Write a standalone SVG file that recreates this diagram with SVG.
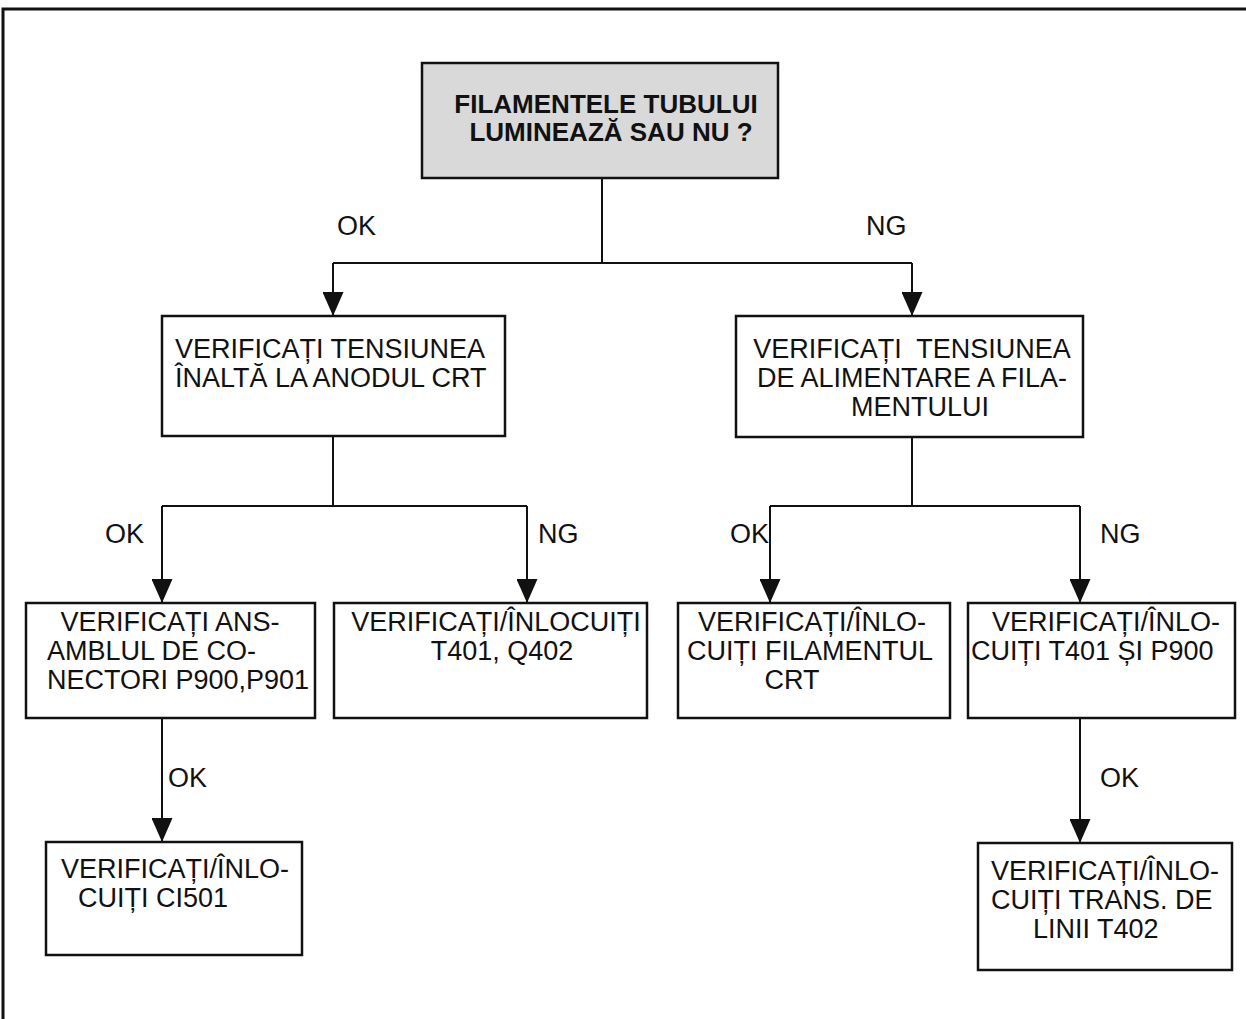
<svg xmlns="http://www.w3.org/2000/svg" width="1246" height="1019" viewBox="0 0 1246 1019">
<defs>
<style>
.bx{fill:#fff;stroke:#111;stroke-width:2.5}
.gr{fill:#d9d9d9;stroke:#111;stroke-width:2.5}
.t{font-family:"Liberation Sans",Arial,sans-serif;font-size:27px;fill:#111}
.tb{font-family:"Liberation Sans",Arial,sans-serif;font-size:26px;font-weight:bold;fill:#111}
.m{text-anchor:middle}
.c{fill:none;stroke:#111;stroke-width:2}
.fr{fill:none;stroke:#111;stroke-width:3}
</style>
<marker id="ah" viewBox="0 0 24 21" refX="24" refY="10.5" markerWidth="24" markerHeight="21" markerUnits="userSpaceOnUse" orient="auto">
<path d="M0,0 L24,10.5 L0,21 z" fill="#111"/>
</marker>
</defs>
<rect width="1246" height="1019" fill="#fff"/>
<path class="fr" d="M3,1019 V9 H1246"/>

<g id="connectors">
<path class="c" d="M602,178 V263"/>
<path class="c" d="M333,263 H912"/>
<path class="c" d="M333,263 V316" marker-end="url(#ah)"/>
<path class="c" d="M912,263 V316" marker-end="url(#ah)"/>
<path class="c" d="M333,436 V506"/>
<path class="c" d="M162,506 H527"/>
<path class="c" d="M162,506 V603" marker-end="url(#ah)"/>
<path class="c" d="M527,506 V603" marker-end="url(#ah)"/>
<path class="c" d="M912,437 V506"/>
<path class="c" d="M770,506 H1080"/>
<path class="c" d="M770,506 V603" marker-end="url(#ah)"/>
<path class="c" d="M1080,506 V603" marker-end="url(#ah)"/>
<path class="c" d="M162,718 V842" marker-end="url(#ah)"/>
<path class="c" d="M1080,718 V843" marker-end="url(#ah)"/>
<text class="t" x="337" y="235">OK</text>
<text class="t" x="866" y="235">NG</text>
<text class="t" x="105" y="543">OK</text>
<text class="t" x="538" y="543">NG</text>
<text class="t" x="730" y="543">OK</text>
<text class="t" x="1100" y="543">NG</text>
<text class="t" x="168" y="787">OK</text>
<text class="t" x="1100" y="787">OK</text>
</g>

<g id="n-top">
<rect class="gr" x="422" y="63" width="356" height="115"/>
<text class="tb m" x="606" y="113">FILAMENTELE TUBULUI</text>
<text class="tb m" x="611" y="141">LUMINEAZĂ SAU NU ?</text>
</g>

<g id="n-a">
<rect class="bx" x="162" y="316" width="343" height="120"/>
<text class="t" x="175" y="358">VERIFICAȚI TENSIUNEA</text>
<text class="t" x="175" y="387">ÎNALTĂ LA ANODUL CRT</text>
</g>

<g id="n-b">
<rect class="bx" x="736" y="316" width="347" height="121"/>
<text class="t m" x="912" y="358" xml:space="preserve">VERIFICAȚI  TENSIUNEA</text>
<text class="t m" x="912" y="387">DE ALIMENTARE A FILA-</text>
<text class="t m" x="920" y="416">MENTULUI</text>
</g>

<g id="n-c">
<rect class="bx" x="26" y="603" width="289" height="115"/>
<text class="t m" x="170" y="631">VERIFICAȚI ANS-</text>
<text class="t" x="47" y="660">AMBLUL DE CO-</text>
<text class="t" x="47" y="689">NECTORI P900,P901</text>
</g>

<g id="n-d">
<rect class="bx" x="334" y="603" width="313" height="115"/>
<text class="t m" x="496" y="631">VERIFICAȚI/ÎNLOCUIȚI</text>
<text class="t m" x="502" y="660">T401, Q402</text>
</g>

<g id="n-e">
<rect class="bx" x="678" y="603" width="272" height="115"/>
<text class="t m" x="812" y="631">VERIFICAȚI/ÎNLO-</text>
<text class="t m" x="810" y="660">CUIȚI FILAMENTUL</text>
<text class="t m" x="792" y="689">CRT</text>
</g>

<g id="n-f">
<rect class="bx" x="968" y="603" width="267" height="115"/>
<text class="t" x="992" y="631">VERIFICAȚI/ÎNLO-</text>
<text class="t" x="971" y="660">CUIȚI T401 ȘI P900</text>
</g>

<g id="n-h">
<rect class="bx" x="46" y="842" width="256" height="113"/>
<text class="t" x="61" y="878">VERIFICAȚI/ÎNLO-</text>
<text class="t" x="78" y="907">CUIȚI CI501</text>
</g>

<g id="n-g">
<rect class="bx" x="978" y="843" width="254" height="127"/>
<text class="t" x="991" y="880">VERIFICAȚI/ÎNLO-</text>
<text class="t" x="991" y="909">CUIȚI TRANS. DE</text>
<text class="t" x="1033" y="938">LINII T402</text>
</g>
</svg>
